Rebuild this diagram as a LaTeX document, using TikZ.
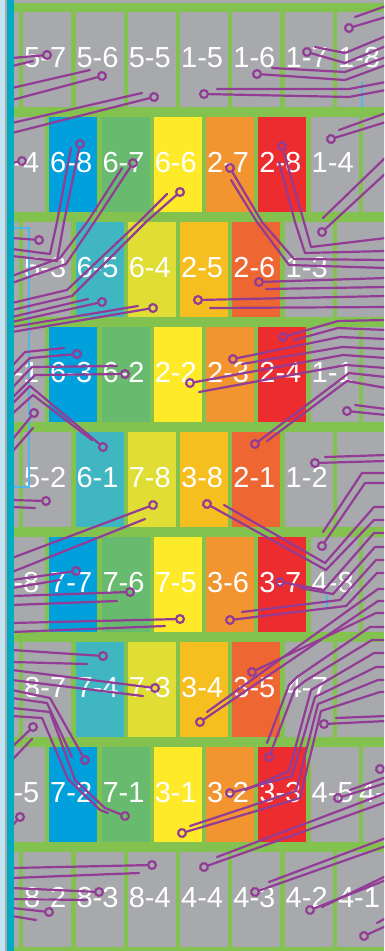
\documentclass[tikz,border=0pt]{standalone}
\usepackage{fontspec}
\usepackage{tikz}
\usetikzlibrary{arrows.meta}
\newfontfamily\cellfont{Liberation Sans}
\definecolor{boardgreen}{RGB}{132,194,80}
\definecolor{cellgray}{RGB}{167,169,172}
\definecolor{cblue}{RGB}{0,160,220}
\definecolor{cgreen}{RGB}{104,186,110}
\definecolor{cyellow}{RGB}{254,234,40}
\definecolor{corange}{RGB}{242,148,48}
\definecolor{cred}{RGB}{236,44,46}
\definecolor{cteal}{RGB}{64,182,194}
\definecolor{cyelgreen}{RGB}{224,222,52}
\definecolor{cgold}{RGB}{246,190,30}
\definecolor{cored}{RGB}{238,102,50}
\definecolor{trpurple}{RGB}{146,60,150}
\definecolor{stripteal}{RGB}{0,172,196}
\definecolor{stripblue}{RGB}{192,228,242}
\definecolor{wireblue}{RGB}{80,184,232}
\tikzset{
  cell/.style={minimum width=48pt, minimum height=95pt, inner sep=0pt, anchor=north west},
  celltext/.style={text=white, inner sep=0pt, font=\cellfont\fontsize{29}{29}\selectfont},
  trace/.style={draw=trpurple, line width=2.2pt, line join=round, line cap=round},
  padtrace/.style={trace, -{Circle[open,length=10pt,width=10pt]}, shorten >=-5pt},
  wire/.style={draw=wireblue, line width=1.4pt},
}

\begin{document}
\begin{tikzpicture}[x=1pt, y=-1pt]
\useasboundingbox (0,0) rectangle (384,951);
\fill[boardgreen] (0,0) rectangle (384,951);
\fill[cellgray] (0,0) rectangle (384,2.5);
\begin{scope}
\clip (14,2.5) rectangle (384,951);
% odd rows
\foreach \lab/\fc [count=\k from -1] in {/cellgray,5-7/cellgray,5-6/cellgray,5-5/cellgray,1-5/cellgray,1-6/cellgray,1-7/cellgray,1-8/cellgray}{
  \node[cell, fill=\fc] (r1c\k) at ({23+52.3*\k},12) {};
  \node[celltext] at ([xshift=-2pt,yshift=2pt]r1c\k.center) {\lab};
}
\foreach \lab/\fc [count=\k from -1] in {/cellgray,5-3/cellgray,6-5/cteal,6-4/cyelgreen,2-5/cgold,2-6/cored,1-3/cellgray,/cellgray}{
  \node[cell, fill=\fc] (r3c\k) at ({23+52.3*\k},222) {};
  \node[celltext] at ([xshift=-2pt,yshift=2pt]r3c\k.center) {\lab};
}
\foreach \lab/\fc [count=\k from -1] in {/cellgray,5-2/cellgray,6-1/cteal,7-8/cyelgreen,3-8/cgold,2-1/cored,1-2/cellgray,/cellgray}{
  \node[cell, fill=\fc] (r5c\k) at ({23+52.3*\k},432) {};
  \node[celltext] at ([xshift=-2pt,yshift=2pt]r5c\k.center) {\lab};
}
\foreach \lab/\fc [count=\k from -1] in {/cellgray,8-7/cellgray,7-4/cteal,7-3/cyelgreen,3-4/cgold,3-5/cored,4-7/cellgray,/cellgray}{
  \node[cell, fill=\fc] (r7c\k) at ({23+52.3*\k},642) {};
  \node[celltext] at ([xshift=-2pt,yshift=2pt]r7c\k.center) {\lab};
}
\foreach \lab/\fc [count=\k from -1] in {/cellgray,8-2/cellgray,8-3/cellgray,8-4/cellgray,4-4/cellgray,4-3/cellgray,4-2/cellgray,4-1/cellgray}{
  \node[cell, fill=\fc] (r9c\k) at ({23+52.3*\k},852) {};
  \node[celltext] at ([xshift=-2pt,yshift=2pt]r9c\k.center) {\lab};
}
% even rows
\foreach \lab/\fc [count=\k from 0] in {/cellgray,6-8/cblue,6-7/cgreen,6-6/cyellow,2-7/corange,2-8/cred,1-4/cellgray,/cellgray}{
  \node[cell, fill=\fc] (r2c\k) at ({-3.3+52.3*\k},117) {};
  \node[celltext] at ([xshift=-2pt,yshift=2pt]r2c\k.center) {\lab};
}
\foreach \lab/\fc [count=\k from 0] in {/cellgray,6-3/cblue,6-2/cgreen,2-2/cyellow,2-3/corange,2-4/cred,1-1/cellgray,/cellgray}{
  \node[cell, fill=\fc] (r4c\k) at ({-3.3+52.3*\k},327) {};
  \node[celltext] at ([xshift=-2pt,yshift=2pt]r4c\k.center) {\lab};
}
\foreach \lab/\fc [count=\k from 0] in {/cellgray,7-7/cblue,7-6/cgreen,7-5/cyellow,3-6/corange,3-7/cred,4-8/cellgray,/cellgray}{
  \node[cell, fill=\fc] (r6c\k) at ({-3.3+52.3*\k},537) {};
  \node[celltext] at ([xshift=-2pt,yshift=2pt]r6c\k.center) {\lab};
}
\foreach \lab/\fc [count=\k from 0] in {/cellgray,7-2/cblue,7-1/cgreen,3-1/cyellow,3-2/corange,3-3/cred,4-5/cellgray,/cellgray}{
  \node[cell, fill=\fc] (r8c\k) at ({-3.3+52.3*\k},747) {};
  \node[celltext] at ([xshift=-2pt,yshift=2pt]r8c\k.center) {\lab};
}
% cut labels at the edges
\node[celltext, anchor=east] (cut2) at (39.5,162.5) {-4};
\node[celltext, anchor=east] (cut4) at (39.5,372.5) {-1};
\node[celltext, anchor=east] (cut6) at (39.5,582.5) {-8};
\node[celltext, anchor=east] (cut8) at (39.5,792.5) {-5};
\node[celltext, anchor=west] (cut8r) at (359,792.5) {4-};
% thin blue wires
\draw[wire] (14,228) -- (29,228) -- (29,487) -- (14,487);
\draw[wire] (362,82) -- (362,107);
\draw[wire] (327,595) -- (327,610);
% row 1
\draw[padtrace] (12,58) -- (47,55);
\draw[trace] (12,66) -- (33,61);
\draw[trace] (12,88) -- (90,70);
\draw[padtrace] (12,100) -- (102,76);
\draw[trace] (12,123) -- (142,93);
\draw[padtrace] (12,133) -- (154,97);
\draw[trace] (386,6) -- (355,17);
\draw[padtrace] (386,17) -- (349,28);
\draw[trace] (386,36) -- (345,53) -- (315,47);
\draw[padtrace] (386,46) -- (345,63) -- (307,52);
\draw[trace] (386,57) -- (345,72) -- (272,68);
\draw[padtrace] (386,65) -- (345,80) -- (257,74);
\draw[trace] (386,82) -- (349,89) -- (217,89);
\draw[padtrace] (386,90) -- (349,97) -- (204,94);
% row 2
\draw[padtrace] (12,163) -- (22,161);
\draw[padtrace] (12,256) -- (57,261) -- (64,222) -- (80,144);
\draw[trace] (12,249) -- (50,254) -- (57,222) -- (71,148);
\draw[padtrace] (12,283) -- (66,264) -- (95,221) -- (133,163);
\draw[trace] (12,276) -- (60,258) -- (88,221) -- (122,168);
\draw[padtrace] (12,310) -- (72,296) -- (147,221) -- (180,192);
\draw[trace] (12,303) -- (67,290) -- (140,221) -- (167,194);
\draw[padtrace] (386,122) -- (331,139);
\draw[trace] (386,113) -- (339,130);
\draw[padtrace] (386,238) -- (311,247) -- (304,222) -- (282,146);
\draw[trace] (386,251) -- (305,253) -- (295,222) -- (279,162);
\draw[padtrace] (386,260) -- (294,259) -- (262,222) -- (230,168);
\draw[trace] (386,268) -- (289,265) -- (257,222) -- (231,180);
% row 3
\draw[padtrace] (386,173) -- (322,232);
\draw[trace] (386,157) -- (323,218);
\draw[padtrace] (12,238) -- (39,240);
\draw[trace] (12,317) -- (88,299);
\draw[padtrace] (12,322) -- (102,302);
\draw[trace] (12,327) -- (138,306);
\draw[padtrace] (12,332) -- (153,308);
\draw[padtrace] (386,278) -- (259,282);
\draw[trace] (386,287) -- (266,289);
\draw[padtrace] (386,296) -- (198,300);
\draw[trace] (386,307) -- (210,308);
% row 4
\draw[trace] (12,366) -- (25,352) -- (64,348);
\draw[padtrace] (12,376) -- (30,358) -- (77,354);
\draw[trace] (12,388) -- (32,367) -- (117,366);
\draw[padtrace] (12,398) -- (35,375) -- (125,374);
\draw[padtrace] (12,404) -- (30,386) -- (103,447);
\draw[trace] (12,414) -- (33,395) -- (92,440);
\draw[padtrace] (12,440) -- (34,413);
\draw[trace] (12,452) -- (33,428);
\draw[padtrace] (386,320) -- (338,321) -- (283,337);
\draw[trace] (386,330) -- (338,328) -- (294,340);
\draw[padtrace] (386,339) -- (340,337) -- (233,359);
\draw[trace] (386,349) -- (342,347) -- (242,364);
\draw[padtrace] (386,358) -- (343,355) -- (190,383);
\draw[trace] (386,368) -- (346,365) -- (199,392);
\draw[padtrace] (386,415) -- (347,411);
\draw[trace] (386,409) -- (355,405);
% row 5
\draw[padtrace] (12,500) -- (46,501);
\draw[trace] (12,507) -- (35,508);
\draw[padtrace] (12,558) -- (153,505);
\draw[trace] (12,572) -- (145,519);
\draw[padtrace] (386,377) -- (349,373) -- (255,444);
\draw[trace] (386,388) -- (347,381) -- (267,441);
\draw[trace] (386,455) -- (325,457);
\draw[padtrace] (386,461) -- (315,463);
\draw[trace] (386,507) -- (374,507) -- (325,563) -- (224,505);
\draw[padtrace] (386,520) -- (374,520) -- (326,570) -- (207,504);
% row 6
\draw[padtrace] (12,580) -- (76,571);
\draw[trace] (12,588) -- (60,580);
\draw[padtrace] (12,596) -- (130,592);
\draw[trace] (12,605) -- (117,601);
\draw[padtrace] (12,623) -- (180,619);
\draw[trace] (12,632) -- (165,626);
\draw[trace] (386,473) -- (362,473) -- (323,532);
\draw[padtrace] (386,483) -- (365,483) -- (322,546);
\draw[padtrace] (386,533) -- (374,533) -- (324,590) -- (280,582);
\draw[trace] (386,547) -- (375,547) -- (333,594) -- (300,588);
\draw[trace] (386,560) -- (376,560) -- (340,600) -- (242,612);
\draw[padtrace] (386,573) -- (377,573) -- (346,606) -- (230,620);
% row 7
\draw[padtrace] (12,650) -- (103,656);
\draw[trace] (12,662) -- (87,664);
\draw[padtrace] (12,670) -- (155,688);
\draw[trace] (12,680) -- (143,696);
\draw[trace] (386,589) -- (378,589) -- (207,712);
\draw[padtrace] (386,601) -- (378,601) -- (200,722);
\draw[padtrace] (386,613) -- (376,613) -- (252,672);
\draw[padtrace] (386,721) -- (324,724);
\draw[trace] (386,716) -- (336,718);
\draw[padtrace] (12,747) -- (33,727);
\draw[trace] (12,760) -- (32,739);
% row 8
\draw[padtrace] (12,690) -- (50,698) -- (85,760);
\draw[trace] (12,698) -- (47,703) -- (72,757);
\draw[padtrace] (12,708) -- (50,712) -- (75,780) -- (105,808) -- (125,816);
\draw[trace] (12,716) -- (42,718) -- (68,779) -- (100,810) -- (108,813);
\draw[padtrace] (12,826) -- (20,817);
\draw[trace] (386,627) -- (370,627) -- (297,677) -- (289,685) -- (267,743);
\draw[padtrace] (386,640) -- (372,640) -- (305,681) -- (295,689) -- (269,757);
\draw[trace] (386,653) -- (374,653) -- (311,690) -- (289,771) -- (245,790);
\draw[padtrace] (386,667) -- (376,667) -- (315,697) -- (292,776) -- (230,793);
\draw[trace] (386,680) -- (378,680) -- (318,704) -- (296,791) -- (190,826);
\draw[padtrace] (386,692) -- (380,692) -- (321,711) -- (300,798) -- (182,833);
\draw[padtrace] (386,767) -- (380,769);
\draw[trace] (386,777) -- (350,790);
\draw[padtrace] (386,783) -- (338,798);
% row 9
\draw[padtrace] (12,868) -- (152,865);
\draw[trace] (12,878) -- (139,873);
\draw[padtrace] (12,888) -- (99,892);
\draw[trace] (12,899) -- (87,900);
\draw[padtrace] (12,908) -- (49,912);
\draw[trace] (12,916) -- (36,920);
\draw[trace] (386,793) -- (217,857);
\draw[padtrace] (386,802) -- (204,867);
\draw[trace] (386,838) -- (269,882);
\draw[padtrace] (386,846) -- (255,892);
\draw[trace] (386,876) -- (322,907);
\draw[padtrace] (386,880) -- (310,910);
\draw[trace] (386,918) -- (377,923);
\draw[padtrace] (386,926) -- (364,936);
\end{scope}
% left edge strips
\fill[stripblue] (0,0) rectangle (5,951);
\fill[cellgray] (5,0) rectangle (7.4,951);
\fill[stripteal] (7.4,0) rectangle (14,951);
\end{tikzpicture}
\end{document}
